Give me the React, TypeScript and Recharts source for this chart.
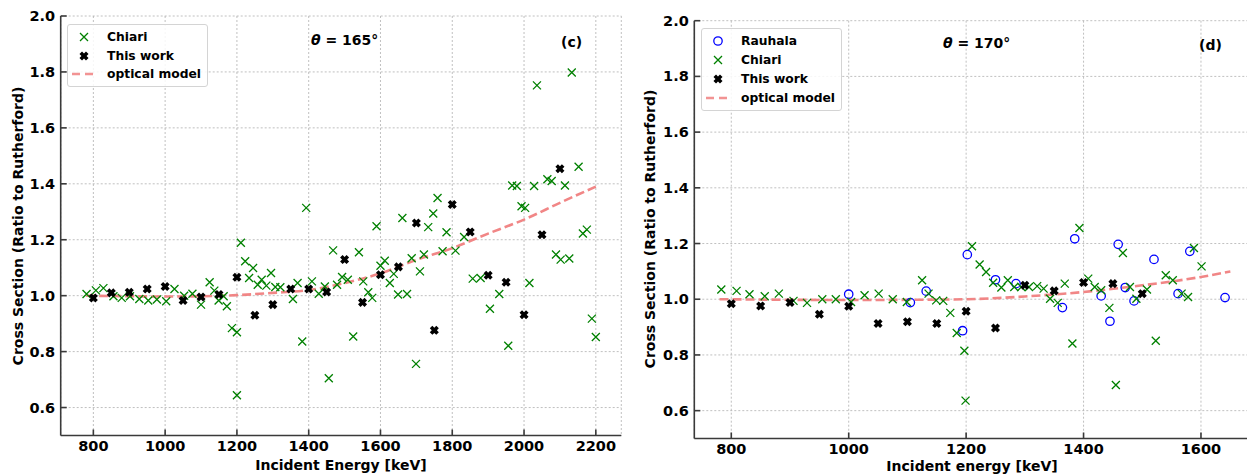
import React from "react";
import { ComposedChart, Scatter, Line, XAxis, YAxis, CartesianGrid } from "recharts";

// ─── Data: θ = 165° ───────────────────────────────────────────────────────────
const chiari165Energy = [
  781, 807, 828, 856, 879, 902, 928, 953, 977, 1003, 1026, 1053, 1076, 1100, 1124, 1137,
  1149, 1163, 1172, 1186, 1200, 1200, 1211, 1223, 1234, 1245, 1258, 1269, 1282, 1295, 1307,
  1321, 1356, 1369, 1382, 1393, 1409, 1428, 1445, 1456, 1468, 1479, 1493, 1509, 1524, 1540,
  1552, 1566, 1577, 1589, 1600, 1612, 1626, 1637, 1649, 1661, 1674, 1687, 1699, 1710, 1721,
  1733, 1747, 1759, 1773, 1784, 1809, 1833, 1857, 1879, 1905, 1931, 1956, 1967, 1980, 1993,
  2003, 2015, 2028, 2036, 2065, 2077, 2089, 2102, 2114, 2126, 2133, 2152, 2164, 2175, 2189, 2200,
];
const chiari165Ratio = [
  1.006, 1.019, 1.027, 0.998, 0.992, 0.998, 0.988, 0.983, 0.986, 0.98, 1.024, 1.0, 1.007, 0.968,
  1.048, 1.018, 0.983, 0.998, 0.962, 0.884, 0.869, 0.644, 1.189, 1.123, 1.063, 1.099, 1.039,
  1.057, 1.036, 1.081, 1.031, 1.03, 0.988, 1.045, 0.836, 1.314, 1.051, 1.007, 1.033, 0.705,
  1.162, 1.039, 1.067, 1.057, 0.854, 1.155, 1.051, 1.012, 0.992, 1.248, 1.107, 1.125, 1.045,
  1.078, 1.004, 1.278, 1.006, 1.134, 0.756, 1.087, 1.147, 1.245, 1.294, 1.349, 1.159, 1.227,
  1.161, 1.21, 1.061, 1.063, 0.953, 1.006, 0.821, 1.394, 1.392, 1.32, 1.314, 1.045, 1.392,
  1.752, 1.416, 1.41, 1.147, 1.129, 1.394, 1.133, 1.798, 1.461, 1.222, 1.236, 0.918, 0.852,
];
const work165Energy = [
  800, 850, 900, 950, 1000, 1050, 1100, 1150, 1200, 1250, 1300, 1350, 1400, 1450, 1500, 1550,
  1600, 1650, 1700, 1750, 1800, 1850, 1900, 1950, 2000, 2050, 2100,
];
const work165Ratio = [
  0.992, 1.01, 1.012, 1.024, 1.033, 0.983, 0.995, 1.004, 1.066, 0.93, 0.968, 1.024, 1.024, 1.013,
  1.129, 0.976, 1.075, 1.103, 1.26, 0.876, 1.326, 1.228, 1.073, 1.048, 0.932, 1.218, 1.454,
];
const optical165Energy = [780, 900, 1000, 1100, 1200, 1300, 1400, 1500, 1600, 1700, 1800, 1900, 2000, 2100, 2200];
const optical165Ratio = [1.0, 0.998, 0.997, 0.998, 1.002, 1.01, 1.02, 1.045, 1.08, 1.128, 1.17, 1.222, 1.272, 1.332, 1.39];

// ─── Data: θ = 170° ───────────────────────────────────────────────────────────
const rauhala170Energy = [
  1000, 1105, 1132, 1194, 1202, 1250, 1285, 1364, 1385, 1430, 1445, 1459, 1471, 1486, 1520, 1561, 1581, 1641,
];
const rauhala170Ratio = [
  1.018, 0.988, 1.029, 0.887, 1.16, 1.07, 1.056, 0.97, 1.217, 1.012, 0.921, 1.197, 1.042, 0.994,
  1.143, 1.02, 1.172, 1.006,
];
const chiari170Energy = [
  783, 809, 831, 857, 881, 906, 929, 955, 978, 1004, 1027, 1051, 1075, 1099, 1125, 1136, 1149,
  1161, 1173, 1184, 1197, 1199, 1210, 1223, 1234, 1246, 1260, 1271, 1282, 1294, 1307, 1321, 1332,
  1343, 1356, 1368, 1381, 1393, 1408, 1419, 1430, 1444, 1455, 1467, 1479, 1490, 1508, 1523, 1540,
  1552, 1567, 1578, 1588, 1601,
];
const chiari170Ratio = [
  1.035, 1.03, 1.018, 1.011, 1.02, 0.994, 0.987, 1.0, 1.0, 0.99, 1.014, 1.02, 1.0, 0.99, 1.068,
  1.02, 0.996, 0.994, 0.951, 0.879, 0.815, 0.636, 1.19, 1.125, 1.098, 1.059, 1.042, 1.068, 1.044,
  1.044, 1.044, 1.047, 1.038, 1.002, 0.987, 1.056, 0.841, 1.256, 1.074, 1.044, 1.032, 0.969,
  0.692, 1.166, 1.044, 1.002, 1.035, 0.851, 1.086, 1.068, 1.02, 1.008, 1.184, 1.118,
];
const work170Energy = [800, 850, 900, 950, 1000, 1050, 1100, 1150, 1200, 1250, 1300, 1350, 1400, 1450, 1500];
const work170Ratio = [
  0.984, 0.976, 0.988, 0.946, 0.975, 0.913, 0.919, 0.913, 0.957, 0.897, 1.05, 1.03, 1.06, 1.056, 1.02,
];
const optical170Energy = [780, 900, 1000, 1100, 1200, 1300, 1400, 1500, 1600, 1650];
const optical170Ratio = [1.0, 0.998, 0.997, 0.998, 1.0, 1.01, 1.026, 1.05, 1.08, 1.1];

// ─── Axes ─────────────────────────────────────────────────────────────────────
const ratioTicks = [0.6, 0.8, 1.0, 1.2, 1.4, 1.6, 1.8, 2.0];
const energyTicks165 = [800, 1000, 1200, 1400, 1600, 1800, 2000, 2200];
const energyTicks170 = [800, 1000, 1200, 1400, 1600];

const zip = (xs: number[], ys: number[]) => xs.map((x, i) => ({ x, y: ys[i] }));

const FRAME = "#3a3a3a";
const FONT = "'DejaVu Sans', sans-serif";
const GREEN = "#008000";
const LINE = "#f08080";

const tickText: React.CSSProperties = {
  fontFamily: FONT,
  fontWeight: 700,
  fontSize: 14.5,
};

// ─── Tick renderers (matplotlib-style inward ticks) ──────────────────────────
function BottomTick({ x, y, payload }: any) {
  return (
    <g>
      <line x1={x} x2={x} y1={y} y2={y - 6} stroke={FRAME} strokeWidth={1.6} />
      <text x={x} y={y + 15} textAnchor="middle" fill="#000" style={tickText}>
        {payload.value}
      </text>
    </g>
  );
}
function LeftTick({ x, y, payload }: any) {
  return (
    <g>
      <line x1={x} x2={x + 6} y1={y} y2={y} stroke={FRAME} strokeWidth={1.6} />
      <text x={x - 5.5} y={y + 5} textAnchor="end" fill="#000" style={tickText}>
        {Number(payload.value).toFixed(1)}
      </text>
    </g>
  );
}
function TopTick({ x, y }: any) {
  return <line x1={x} x2={x} y1={y} y2={y + 6} stroke={FRAME} strokeWidth={1.6} />;
}
function RightTick({ x, y }: any) {
  return <line x1={x - 6} x2={x} y1={y} y2={y} stroke={FRAME} strokeWidth={1.6} />;
}

// ─── Markers ──────────────────────────────────────────────────────────────────
function CrossMark({ cx, cy }: any) {
  const s = 4;
  return (
    <path
      d={`M${cx - s},${cy - s}L${cx + s},${cy + s}M${cx - s},${cy + s}L${cx + s},${cy - s}`}
      stroke={GREEN}
      strokeWidth={1.3}
      fill="none"
    />
  );
}
function FilledX({ cx, cy }: any) {
  const L = 4.6;
  const h = 1.8;
  const plus = [
    [h, L], [h, h], [L, h], [L, -h], [h, -h], [h, -L],
    [-h, -L], [-h, -h], [-L, -h], [-L, h], [-h, h], [-h, L],
  ];
  const pts = plus
    .map(([a, b]) => `${cx + (a - b) / Math.SQRT2},${cy + (a + b) / Math.SQRT2}`)
    .join(" ");
  return <polygon points={pts} fill="#000" />;
}
function OpenCircle({ cx, cy }: any) {
  return <circle cx={cx} cy={cy} r={4.2} stroke="#0000ff" strokeWidth={1.3} fill="none" />;
}

// ─── Panel ────────────────────────────────────────────────────────────────────
interface PanelProps {
  width: number;
  height: number;
  margin: { top: number; right: number; bottom: number; left: number };
  xAxisHeight: number;
  xDomain: [number, number];
  xTicks: number[];
  children: React.ReactNode;
}

function Panel({ width, height, margin, xAxisHeight, xDomain, xTicks, children }: PanelProps) {
  return (
    <ComposedChart width={width} height={height} margin={margin}>
      <CartesianGrid strokeDasharray="2 2" stroke="#b0b0b0" strokeWidth={0.8} />
      <XAxis
        dataKey="x"
        type="number"
        domain={xDomain}
        ticks={xTicks}
        interval={0}
        allowDataOverflow
        height={xAxisHeight}
        tickSize={0}
        tickMargin={0}
        tickLine={false}
        axisLine={{ stroke: FRAME, strokeWidth: 1.6 }}
        tick={<BottomTick />}
      />
      <XAxis
        xAxisId="top"
        orientation="top"
        type="number"
        domain={xDomain}
        ticks={xTicks}
        interval={0}
        allowDataOverflow
        height={0}
        tickSize={0}
        tickMargin={0}
        tickLine={false}
        axisLine={{ stroke: FRAME, strokeWidth: 1.6 }}
        tick={<TopTick />}
      />
      <YAxis
        dataKey="y"
        type="number"
        domain={[0.5, 2.0]}
        ticks={ratioTicks}
        interval={0}
        allowDataOverflow
        width={60}
        tickSize={0}
        tickMargin={0}
        tickLine={false}
        axisLine={{ stroke: FRAME, strokeWidth: 1.6 }}
        tick={<LeftTick />}
      />
      <YAxis
        yAxisId="right"
        orientation="right"
        type="number"
        domain={[0.5, 2.0]}
        ticks={ratioTicks}
        interval={0}
        allowDataOverflow
        width={0}
        tickSize={0}
        tickMargin={0}
        tickLine={false}
        axisLine={{ stroke: FRAME, strokeWidth: 1.6 }}
        tick={<RightTick />}
      />
      {children}
    </ComposedChart>
  );
}

// ─── Legend (HTML overlay) ────────────────────────────────────────────────────
type Handle = "cross" | "filledX" | "circle" | "dash";

function HandleIcon({ kind }: { kind: Handle }) {
  return (
    <svg width={26} height={14} style={{ display: "block" }}>
      {kind === "cross" && <CrossMark cx={13} cy={7} />}
      {kind === "filledX" && <FilledX cx={13} cy={7} />}
      {kind === "circle" && <OpenCircle cx={13} cy={7} />}
      {kind === "dash" && (
        <line x1={1} x2={25} y1={7} y2={7} stroke={LINE} strokeOpacity={0.85} strokeWidth={2.6} strokeDasharray="8 5" />
      )}
    </svg>
  );
}

function LegendBox({
  left,
  top,
  width,
  rowGap,
  items,
}: {
  left: number;
  top: number;
  width: number;
  rowGap: number;
  items: { label: string; kind: Handle }[];
}) {
  return (
    <div
      style={{
        position: "absolute",
        left,
        top,
        width,
        padding: "3px 0 3px 0",
        boxSizing: "border-box",
        border: "1px solid #d4d4d4",
        borderRadius: 3,
        background: "rgba(255,255,255,0.85)",
        fontFamily: FONT,
        fontWeight: "bold",
        fontSize: 12.3,
      }}
    >
      {items.map((it) => (
        <div key={it.label} style={{ display: "flex", alignItems: "center", height: rowGap }}>
          <div style={{ marginLeft: 3, width: 30 }}>
            <HandleIcon kind={it.kind} />
          </div>
          <span style={{ marginLeft: 6 }}>{it.label}</span>
        </div>
      ))}
    </div>
  );
}

const textStyle: React.CSSProperties = {
  position: "absolute",
  fontFamily: FONT,
  fontWeight: "bold",
  fontSize: 14,
  color: "#000",
  whiteSpace: "nowrap",
  lineHeight: "18px",
};

// ─── App ──────────────────────────────────────────────────────────────────────
export default function App() {
  return (
    <div
      style={{
        position: "fixed",
        left: 0,
        top: 0,
        width: 1247,
        height: 475,
        overflow: "hidden",
        background: "#fff",
      }}
    >
      {/* (c) θ = 165° */}
      <div style={{ position: "absolute", left: 0, top: 0 }}>
        <Panel
          width={640}
          height={475}
          margin={{ top: 16, right: 18.7, bottom: 0, left: 0.7 }}
          xAxisHeight={39.5}
          xDomain={[709, 2271]}
          xTicks={energyTicks165}
        >
          <Scatter name="Chiari" data={zip(chiari165Energy, chiari165Ratio)} dataKey="y" shape={<CrossMark />} isAnimationActive={false} />
          <Scatter name="This work" data={zip(work165Energy, work165Ratio)} dataKey="y" shape={<FilledX />} isAnimationActive={false} />
          <Line
            name="optical model"
            data={zip(optical165Energy, optical165Ratio)}
            dataKey="y"
            type="monotone"
            stroke={LINE}
            strokeOpacity={0.95}
            strokeWidth={2.6}
            strokeDasharray="9 4"
            dot={false}
            activeDot={false}
            isAnimationActive={false}
          />
        </Panel>
      </div>

      {/* (d) θ = 170° */}
      <div style={{ position: "absolute", left: 634, top: 0 }}>
        <Panel
          width={626}
          height={475}
          margin={{ top: 20.7, right: 10.3, bottom: 0, left: 0.3 }}
          xAxisHeight={36.5}
          xDomain={[737, 1683]}
          xTicks={energyTicks170}
        >
          <Scatter name="Rauhala" data={zip(rauhala170Energy, rauhala170Ratio)} dataKey="y" shape={<OpenCircle />} isAnimationActive={false} />
          <Scatter name="Chiari" data={zip(chiari170Energy, chiari170Ratio)} dataKey="y" shape={<CrossMark />} isAnimationActive={false} />
          <Scatter name="This work" data={zip(work170Energy, work170Ratio)} dataKey="y" shape={<FilledX />} isAnimationActive={false} />
          <Line
            name="optical model"
            data={zip(optical170Energy, optical170Ratio)}
            dataKey="y"
            type="monotone"
            stroke={LINE}
            strokeOpacity={0.95}
            strokeWidth={2.6}
            strokeDasharray="9 4"
            dot={false}
            activeDot={false}
            isAnimationActive={false}
          />
        </Panel>
      </div>

      {/* legends */}
      <LegendBox
        left={67}
        top={24}
        width={141}
        rowGap={18.4}
        items={[
          { label: "Chiari", kind: "cross" },
          { label: "This work", kind: "filledX" },
          { label: "optical model", kind: "dash" },
        ]}
      />
      <LegendBox
        left={701}
        top={28}
        width={141}
        rowGap={18.8}
        items={[
          { label: "Rauhala", kind: "circle" },
          { label: "Chiari", kind: "cross" },
          { label: "This work", kind: "filledX" },
          { label: "optical model", kind: "dash" },
        ]}
      />

      {/* annotations */}
      <div style={{ ...textStyle, left: 311, top: 31 }}>
        <i>θ</i> = 165°
      </div>
      <div style={{ ...textStyle, left: 561, top: 33 }}>(c)</div>
      <div style={{ ...textStyle, left: 943, top: 34 }}>
        <i>θ</i> = 170°
      </div>
      <div style={{ ...textStyle, left: 1199, top: 36 }}>(d)</div>

      {/* axis titles */}
      <div style={{ ...textStyle, left: 341, top: 456, transform: "translateX(-50%)" }}>
        Incident Energy [keV]
      </div>
      <div style={{ ...textStyle, left: 972, top: 457, transform: "translateX(-50%)" }}>
        Incident energy [keV]
      </div>
      <div
        style={{
          ...textStyle,
          left: 18,
          top: 226,
          transform: "translate(-50%, -50%) rotate(-90deg)",
        }}
      >
        Cross Section (Ratio to Rutherford)
      </div>
      <div
        style={{
          ...textStyle,
          left: 650,
          top: 229,
          transform: "translate(-50%, -50%) rotate(-90deg)",
        }}
      >
        Cross Section (Ratio to Rutherford)
      </div>
    </div>
  );
}
